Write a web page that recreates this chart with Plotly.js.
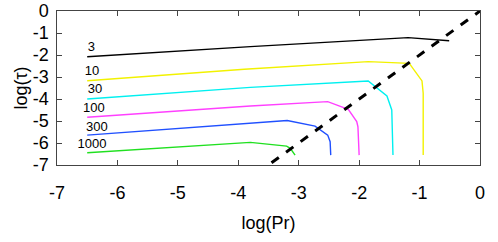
<!DOCTYPE html>
<html><head><meta charset="utf-8">
<script src="https://cdn.plot.ly/plotly-3.0.1.min.js"></script>
<style>html,body{margin:0;padding:0;background:#fff}#c{width:498px;height:242px}</style>
</head><body><div id="c"></div>
<script>
const labels = ["3","10","30","100","300","1000"];
const colors = ["#000000","#f2f200","#00f0f0","#ff40ff","#2050ff","#20e020"];
const xs = [
  [-6.5,-3.8,-1.19,-0.51],
  [-6.5,-3.9,-1.85,-1.17,-0.96,-0.94,-0.94],
  [-6.5,-3.8,-1.85,-1.54,-1.46,-1.44],
  [-6.5,-3.8,-2.52,-2.18,-2.04,-2.02,-2.0],
  [-6.5,-3.8,-3.19,-2.73,-2.52,-2.48,-2.47],
  [-6.5,-3.8,-3.2,-3.14,-3.06]
];
const ys = [
  [-2.08,-1.62,-1.21,-1.35],
  [-3.17,-2.65,-2.30,-2.38,-3.18,-3.74,-6.55],
  [-4.0,-3.47,-3.18,-3.86,-4.5,-6.55],
  [-4.83,-4.32,-4.12,-4.47,-5.03,-5.26,-6.55],
  [-5.64,-5.1,-4.98,-5.23,-5.64,-5.94,-6.55],
  [-6.44,-5.97,-6.14,-6.24,-6.55]
];
const labelX = [-6.49,-6.54,-6.49,-6.57,-6.52,-6.66];
const labelY = [-1.68,-2.76,-3.6,-4.46,-5.3,-6.1];
const dashX = [-3.45, 0];
const dashY = [-6.9, 0];
const xTicks = [-7,-6,-5,-4,-3,-2,-1,0];
const yTicks = [0,-1,-2,-3,-4,-5,-6,-7];

const FONT = 'Liberation Sans, Arial, sans-serif';
const traces = xs.map((x,i)=>({x:x,y:ys[i],mode:'lines',line:{color:colors[i],width:1.4},hoverinfo:'none'}));
traces.push({x:dashX,y:dashY,mode:'lines',line:{color:'#000',width:3,dash:'dash'},hoverinfo:'none'});
traces.push({x:labelX,y:labelY,mode:'text',text:labels,textposition:'middle right',textfont:{family:FONT,size:13,color:'#000'},hoverinfo:'none',cliponaxis:false});

const axisCommon = {showgrid:false,zeroline:false,showline:true,mirror:'allticks',linecolor:'#444',linewidth:1,
  ticks:'inside',ticklen:5,tickcolor:'#444',tickfont:{family:FONT,size:18,color:'#000'}};
const layout = {
  width:498,height:242,margin:{l:57,r:18,t:11,b:77},showlegend:false,
  paper_bgcolor:'#fff',plot_bgcolor:'#fff',
  xaxis:Object.assign({},axisCommon,{range:[-7,0],tickvals:xTicks,ticktext:xTicks.map(String),ticklabelstandoff:11,
    title:{text:'log(Pr)',font:{family:FONT,size:18,color:'#000'},standoff:14}}),
  yaxis:Object.assign({},axisCommon,{range:[-7,0],tickvals:yTicks,ticktext:yTicks.map(v=>String(v)+'\u2009'),
    title:{text:'log(τ)',font:{family:FONT,size:18,color:'#000'},standoff:0}})
};
Plotly.newPlot('c',traces,layout,{staticPlot:true});
</script></body></html>
